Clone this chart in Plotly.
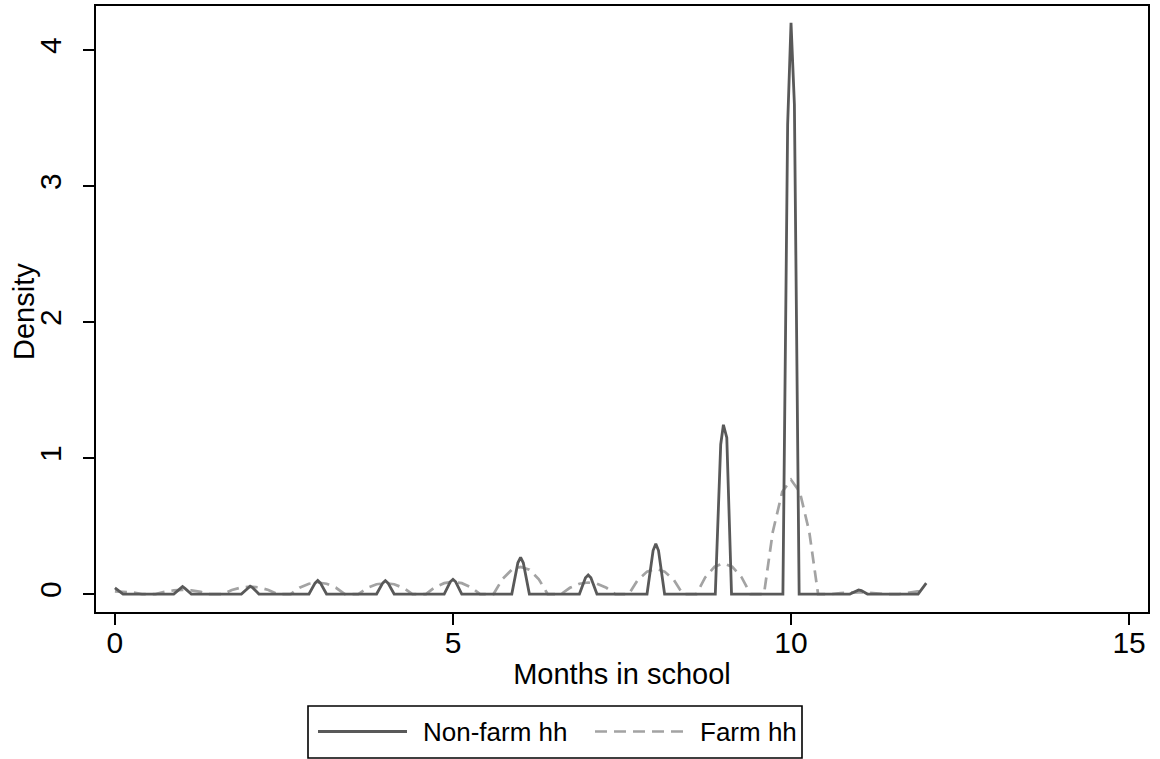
import plotly.graph_objects as go

# Kernel density of months in school, non-farm households (narrow bandwidth)
nonfarm_x = [0.00, 0.12, 0.87, 0.96, 1.00, 1.04, 1.13, 1.87, 1.96, 2.00, 2.04, 2.13,
             2.87, 2.96, 3.00, 3.04, 3.13, 3.87, 3.96, 4.00, 4.04, 4.13,
             4.87, 4.96, 5.00, 5.04, 5.13, 5.87, 5.96, 6.00, 6.04, 6.13,
             6.87, 6.96, 7.00, 7.04, 7.13, 7.87, 7.96, 8.00, 8.04, 8.13,
             8.88, 8.96, 9.00, 9.05, 9.12, 9.88, 9.95, 10.00, 10.05, 10.12,
             10.87, 10.96, 11.00, 11.04, 11.13, 11.88, 12.00]
nonfarm_y = [0.045, 0.0, 0.0, 0.04, 0.055, 0.04, 0.0, 0.0, 0.045, 0.058, 0.045, 0.0,
             0.0, 0.08, 0.10, 0.08, 0.0, 0.0, 0.08, 0.098, 0.08, 0.0,
             0.0, 0.09, 0.108, 0.09, 0.0, 0.0, 0.23, 0.27, 0.23, 0.0,
             0.0, 0.12, 0.14, 0.12, 0.0, 0.0, 0.32, 0.37, 0.32, 0.0,
             0.0, 1.10, 1.245, 1.15, 0.0, 0.0, 3.45, 4.20, 3.60, 0.0,
             0.0, 0.025, 0.03, 0.025, 0.0, 0.0, 0.08]

# Kernel density of months in school, farm households (wider bandwidth)
farm_x = [0.00, 0.13, 0.27, 0.40,
          0.60, 0.73, 0.87, 1.00, 1.13, 1.27, 1.40,
          1.60, 1.73, 1.87, 2.00, 2.13, 2.27, 2.40,
          2.60, 2.73, 2.87, 3.00, 3.13, 3.27, 3.40,
          3.60, 3.73, 3.87, 4.00, 4.13, 4.27, 4.40,
          4.60, 4.73, 4.87, 5.00, 5.13, 5.27, 5.40,
          5.60, 5.73, 5.87, 6.00, 6.13, 6.27, 6.40,
          6.60, 6.73, 6.87, 7.00, 7.13, 7.27, 7.40,
          7.60, 7.73, 7.87, 8.00, 8.13, 8.27, 8.40,
          8.60, 8.73, 8.87, 9.00, 9.13, 9.27, 9.40,
          9.60, 9.73, 9.87, 10.00, 10.13, 10.27, 10.40,
          10.60, 10.73, 10.87, 11.00, 11.13, 11.27, 11.40,
          11.60, 11.73, 11.87, 12.00]
farm_y = [0.020, 0.018, 0.011, 0.0,
          0.0, 0.016, 0.027, 0.030, 0.027, 0.016, 0.0,
          0.0, 0.030, 0.049, 0.055, 0.049, 0.030, 0.0,
          0.0, 0.046, 0.076, 0.085, 0.076, 0.046, 0.0,
          0.0, 0.044, 0.072, 0.080, 0.072, 0.044, 0.0,
          0.0, 0.049, 0.080, 0.090, 0.080, 0.049, 0.0,
          0.0, 0.109, 0.179, 0.200, 0.179, 0.109, 0.0,
          0.0, 0.046, 0.076, 0.085, 0.076, 0.046, 0.0,
          0.0, 0.101, 0.165, 0.185, 0.165, 0.101, 0.0,
          0.0, 0.122, 0.201, 0.225, 0.201, 0.122, 0.0,
          0.0, 0.457, 0.751, 0.840, 0.751, 0.457, 0.0,
          0.0, 0.007, 0.011, 0.012, 0.011, 0.007, 0.0,
          0.0, 0.012, 0.020, 0.022]

x_ticks = [0, 5, 10, 15]
y_ticks = [0, 1, 2, 3, 4]
series_names = ["Non-farm hh", "Farm hh"]
x_title = "Months in school"
y_title = "Density"

DARK = "#595959"
LIGHT = "#a3a3a3"
FONT = "Liberation Sans, Arial, Helvetica, sans-serif"
DASH = "12px,7px"

fig = go.Figure()
fig.add_trace(go.Scatter(x=farm_x, y=farm_y, mode="lines", name=series_names[1],
                         line=dict(color=LIGHT, width=2.7, dash=DASH),
                         showlegend=False))
fig.add_trace(go.Scatter(x=nonfarm_x, y=nonfarm_y, mode="lines", name=series_names[0],
                         line=dict(color=DARK, width=2.8),
                         showlegend=False))

axis_common = dict(showline=True, linecolor="black", linewidth=2, mirror=True,
                   ticks="outside", ticklen=11, tickwidth=1.6, tickcolor="black",
                   showgrid=False, zeroline=False,
                   tickfont=dict(family=FONT, size=30, color="black"))

fig.update_xaxes(range=[-0.28, 15.28], tickvals=x_ticks,
                 ticktext=[str(v) for v in x_ticks],
                 ticklabelstandoff=-8,
                 title=dict(text=x_title, standoff=6,
                            font=dict(family=FONT, size=29, color="black")),
                 **axis_common)
fig.update_yaxes(range=[-0.132, 4.324], tickvals=y_ticks,
                 ticktext=[str(v) for v in y_ticks], tickangle=-90,
                 ticklabelstandoff=10,
                 **axis_common)

# Legend box and y-axis title, placed in paper coordinates
L, T, R, B = 96, 6, 12, 147
W, H = 1160, 759
pw, ph = W - L - R, H - T - B


def px(xp):
    return (xp - L) / pw


def py(yp):
    return (H - B - yp) / ph


leg_y = py(731.5)
shapes = [
    dict(type="rect", xref="paper", yref="paper", x0=px(308), x1=px(802),
         y0=py(758), y1=py(706), line=dict(color="black", width=1.6),
         fillcolor="white"),
    dict(type="line", xref="paper", yref="paper", x0=px(318), x1=px(407),
         y0=leg_y, y1=leg_y, line=dict(color=DARK, width=2.8)),
    dict(type="line", xref="paper", yref="paper", x0=px(595), x1=px(685),
         y0=leg_y, y1=leg_y, line=dict(color=LIGHT, width=2.7, dash=DASH)),
]
annotations = [
    dict(xref="paper", yref="paper", x=px(421), y=leg_y, text=series_names[0],
         showarrow=False, xanchor="left", yanchor="middle",
         font=dict(family=FONT, size=26, color="black")),
    dict(xref="paper", yref="paper", x=px(698), y=leg_y, text=series_names[1],
         showarrow=False, xanchor="left", yanchor="middle",
         font=dict(family=FONT, size=26, color="black")),
    dict(xref="paper", yref="paper", x=px(24), y=py(312), text=y_title,
         showarrow=False, xanchor="center", yanchor="middle", textangle=-90,
         font=dict(family=FONT, size=29, color="black")),
]

fig.update_layout(
    width=W, height=H,
    margin=dict(l=L, r=R, t=T, b=B, autoexpand=False),
    paper_bgcolor="white", plot_bgcolor="white",
    shapes=shapes, annotations=annotations,
    showlegend=False,
)

fig.write_html("out.html")
